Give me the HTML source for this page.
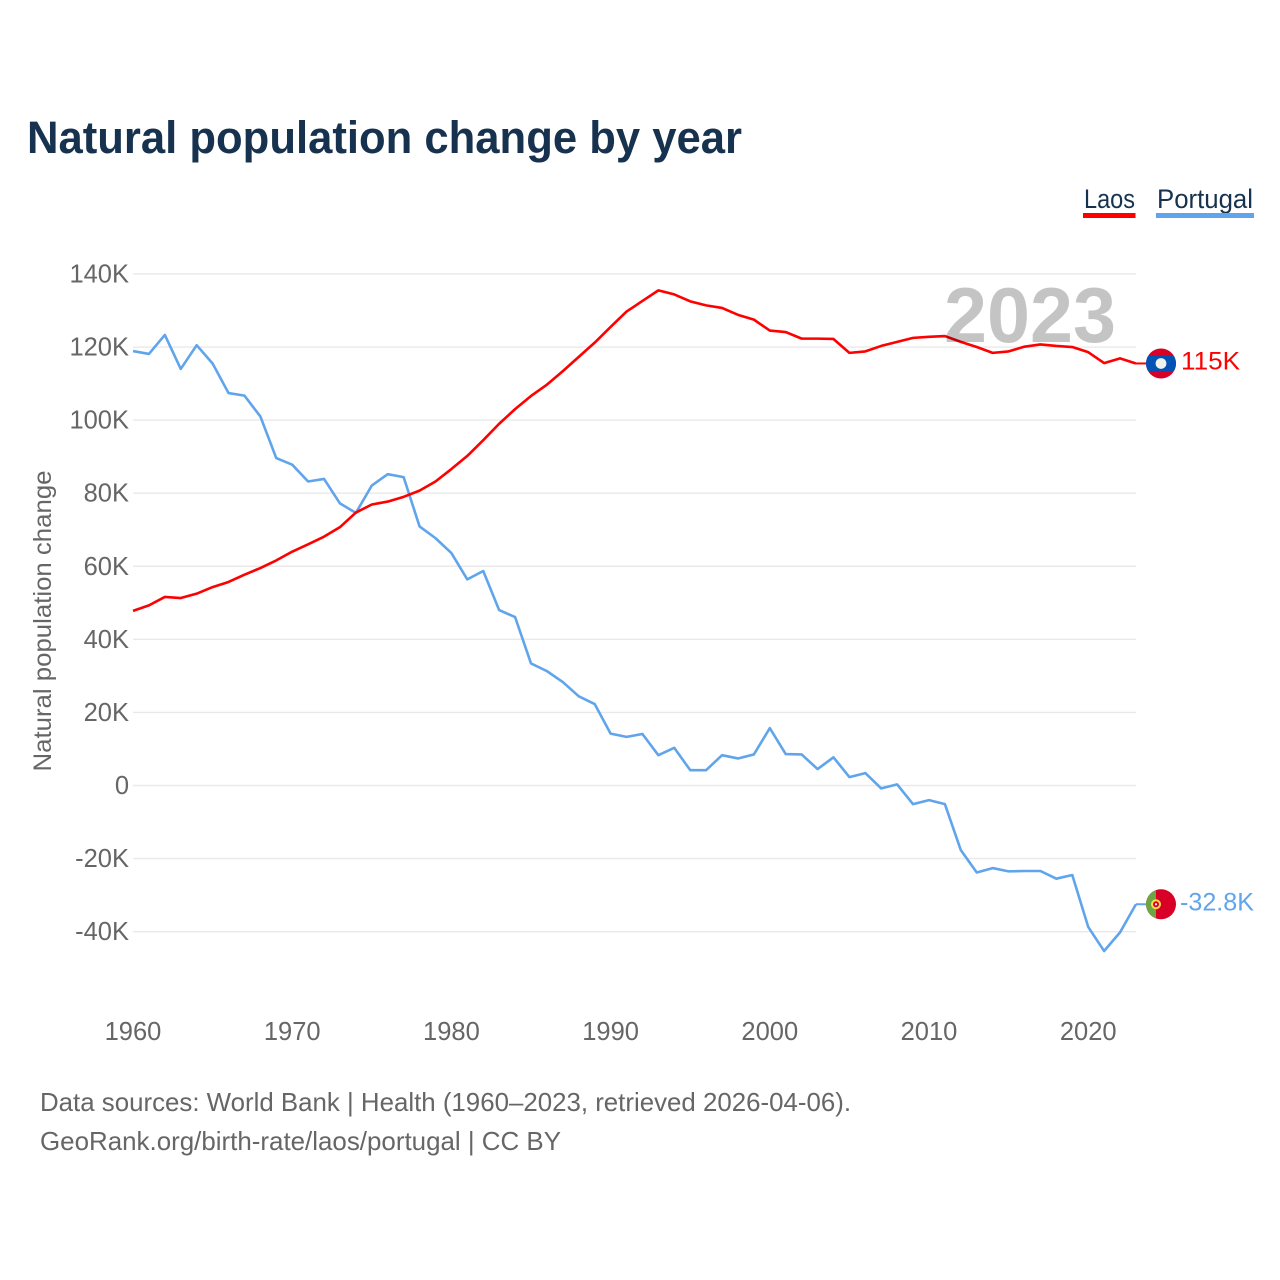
<!DOCTYPE html>
<html lang="en">
<head>
<meta charset="utf-8">
<title>Natural population change by year</title>
<style>
  html, body { margin: 0; padding: 0; background: #fff; width: 1280px; height: 1280px; overflow: hidden; }
  svg { display: block; font-family: "Liberation Sans", sans-serif; }
</style>
</head>
<body>
<svg id="chart" xmlns="http://www.w3.org/2000/svg" width="1280" height="1280" viewBox="0 0 1280 1280">
  <rect x="0" y="0" width="1280" height="1280" fill="#ffffff"/>
  <text x="27" y="153" font-size="45" font-weight="700" fill="#17324f" textLength="715" lengthAdjust="spacingAndGlyphs">Natural population change by year</text>

  <g>
    <text x="1084" y="208" font-size="27" fill="#17324f" textLength="51" lengthAdjust="spacingAndGlyphs">Laos</text>
    <rect x="1083" y="213" width="52.5" height="5" fill="#ff0000"/>
  </g>
  <g>
    <text x="1157" y="208" font-size="27" fill="#17324f" textLength="96" lengthAdjust="spacingAndGlyphs">Portugal</text>
    <rect x="1156" y="213" width="98" height="5" fill="#60a5ec"/>
  </g>

  <g id="grid"></g>
  <g id="y-ticks"></g>
  <g id="x-ticks"></g>
  <text transform="translate(51 621) rotate(-90)" text-anchor="middle" font-size="25" fill="#666666" textLength="301" lengthAdjust="spacingAndGlyphs">Natural population change</text>

  <g id="series"></g>

  <text x="1116" y="342" text-anchor="end" font-size="78" font-weight="700" fill="#000000" fill-opacity="0.23" textLength="172" lengthAdjust="spacingAndGlyphs">2023</text>

  <g id="end-laos">
    <defs>
      <clipPath id="clip-la"><circle cx="1161" cy="0" r="15"/></clipPath>
      <clipPath id="clip-pt"><circle cx="1161" cy="0" r="15"/></clipPath>
    </defs>
    <g id="flag-laos">
      <g clip-path="url(#clip-la)">
        <rect x="1145" y="-16" width="32" height="32" fill="#d80027"/>
        <rect x="1145" y="-7.5" width="32" height="15" fill="#0052b4"/>
      </g>
      <circle cx="1161" cy="0" r="5.4" fill="#f0f0f0"/>
    </g>
    <text id="label-laos" x="1181" font-size="25" fill="#ff0000" textLength="59" lengthAdjust="spacingAndGlyphs">115K</text>
  </g>
  <g id="end-portugal">
    <g id="flag-portugal">
      <g clip-path="url(#clip-pt)">
        <rect x="1145" y="-16" width="32" height="32" fill="#d80027"/>
        <rect x="1145" y="-16" width="11" height="32" fill="#6da544"/>
      </g>
      <circle cx="1156" cy="0" r="4" fill="#d80027" stroke="#ffda44" stroke-width="2"/>
      <circle cx="1156" cy="0" r="1.1" fill="#f0f0f0"/>
    </g>
    <text id="label-portugal" x="1180" font-size="25" fill="#60a5ec" textLength="74" lengthAdjust="spacingAndGlyphs">-32.8K</text>
  </g>

  <text x="40" y="1111" font-size="26" fill="#666666" textLength="811" lengthAdjust="spacingAndGlyphs">Data sources: World Bank | Health (1960–2023, retrieved 2026-04-06).</text>
  <text x="40" y="1150" font-size="26" fill="#666666" textLength="521" lengthAdjust="spacingAndGlyphs">GeoRank.org/birth-rate/laos/portugal | CC BY</text>
</svg>
<script>
const startYear = 1960;
const laosValues = [47.8,49.3,51.6,51.3,52.5,54.3,55.7,57.7,59.5,61.6,64,66,68.1,70.7,74.7,76.9,77.7,79,80.7,83.2,86.6,90.2,94.5,99,103,106.6,109.7,113.4,117.3,121.2,125.5,129.7,132.6,135.5,134.4,132.5,131.4,130.7,128.8,127.5,124.5,124.1,122.3,122.3,122.2,118.4,118.8,120.3,121.4,122.5,122.8,123,121.4,120,118.4,118.8,120.1,120.7,120.3,120,118.6,115.6,116.9,115.5];
const portugalValues = [118.9,118.1,123.3,114,120.5,115.5,107.4,106.7,101,89.6,87.8,83.2,83.9,77.2,74.6,82.1,85.2,84.4,70.9,67.7,63.6,56.4,58.7,48,46.1,33.4,31.3,28.3,24.4,22.3,14.2,13.3,14.1,8.3,10.3,4.2,4.2,8.3,7.4,8.5,15.7,8.6,8.5,4.5,7.7,2.3,3.4,-0.8,0.3,-5.1,-4,-5.1,-17.7,-23.8,-22.6,-23.5,-23.4,-23.4,-25.5,-24.5,-38.7,-45.3,-40.2,-32.5];
const yTickValues = [140,120,100,80,60,40,20,0,-20,-40];
const yTickLabels = ["140K","120K","100K","80K","60K","40K","20K","0","-20K","-40K"];
const xTickYears = [1960,1970,1980,1990,2000,2010,2020];

const NS = "http://www.w3.org/2000/svg";
const xScale = year => 133 + (year - 1960) * 15.92;
const yScale = value => 785.5 - value * 3.654;

function make(tag, attrs, text) {
  const el = document.createElementNS(NS, tag);
  for (const k in attrs) el.setAttribute(k, attrs[k]);
  if (text !== undefined) el.textContent = text;
  return el;
}

const gridGroup = document.getElementById("grid");
const yGroup = document.getElementById("y-ticks");
yTickValues.forEach((v, i) => {
  const y = yScale(v);
  const line = make("line", { x1: 133, x2: 1136, y1: y, y2: y, stroke: "#e9e9e9", "stroke-width": 1.4 });
  
  
  gridGroup.appendChild(line);
  const label = make("text", { x: 129, y: y + 8.5, "text-anchor": "end", "font-size": 25.5, fill: "#666666" }, yTickLabels[i]);
  
  
  yGroup.appendChild(label);
});

const xGroup = document.getElementById("x-ticks");
xTickYears.forEach(year => {
  const label = make("text", { x: xScale(year), y: 1040, "text-anchor": "middle", "font-size": 25.5, fill: "#666666" }, String(year));
  
  
  xGroup.appendChild(label);
});

function linePoints(values) {
  return values.map((v, i) => xScale(startYear + i).toFixed(2) + "," + yScale(v).toFixed(2)).join(" ");
}

const seriesGroup = document.getElementById("series");
const portugalLine = make("polyline", { points: linePoints(portugalValues), fill: "none", stroke: "#60a5ec", "stroke-width": 2.6, "stroke-linejoin": "round" });


seriesGroup.appendChild(portugalLine);
const laosLine = make("polyline", { points: linePoints(laosValues), fill: "none", stroke: "#ff0000", "stroke-width": 2.6, "stroke-linejoin": "round" });


seriesGroup.appendChild(laosLine);

function placeEnd(values, flagId, labelId, color, connectorName) {
  const last = values[values.length - 1];
  const y = yScale(last);
  document.getElementById(flagId).setAttribute("transform", "translate(0 " + y + ")");
  document.getElementById(labelId).setAttribute("y", y + 6);
  const x0 = xScale(startYear + values.length - 1);
  const connector = make("line", { x1: x0, x2: 1146, y1: y, y2: y, stroke: color, "stroke-width": 2 });
  
  
  seriesGroup.appendChild(connector);
}
placeEnd(laosValues, "flag-laos", "label-laos", "#ff0000", "connector-laos");
placeEnd(portugalValues, "flag-portugal", "label-portugal", "#60a5ec", "connector-portugal");
</script>
</body>
</html>
